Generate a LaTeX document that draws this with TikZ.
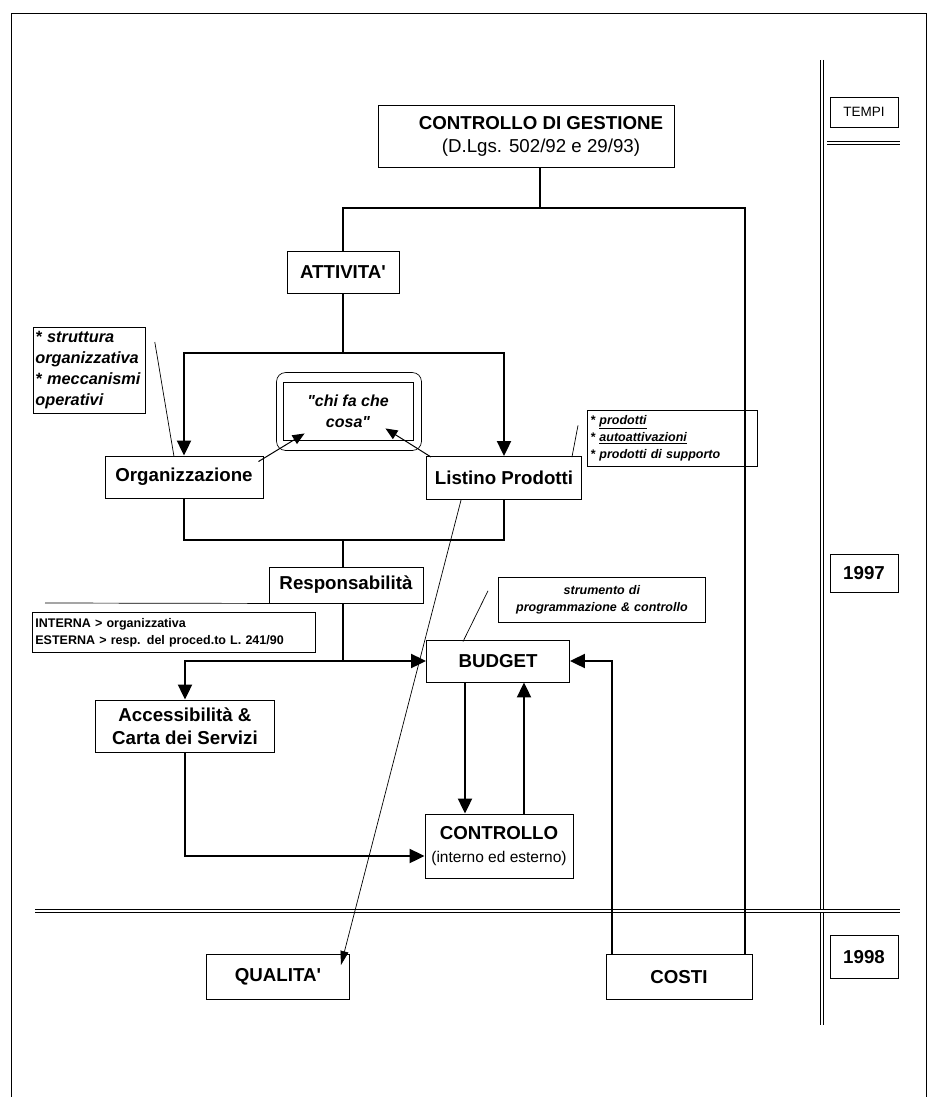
\documentclass[tikz,border=0pt]{standalone}
\usepackage{fontspec}
\setmainfont{Liberation Sans}
\usetikzlibrary{arrows.meta,calc}

\tikzset{
  box/.style={draw, line width=0.9pt, inner sep=0pt, align=center,
    font=\bfseries\fontsize{18.7}{23}\selectfont},
  note/.style={draw, line width=0.8pt, inner sep=3pt, align=left,
    font=\bfseries\itshape\fontsize{16.3}{21}\selectfont},
  link/.style={line width=2.1pt},
  arr/.style={line width=2.1pt, -{Triangle[length=15pt,width=14pt]}},
  small arr/.style={line width=1pt, -{Triangle[length=12pt,width=10pt]}},
  hair/.style={line width=0.7pt},
  doubleline/.style={double, double distance=2.4pt, line width=0.9pt},
}

\begin{document}
\begin{tikzpicture}[x=1pt, y=-1pt]
        \useasboundingbox (0,0) rectangle (933,1097);

        % Cornice
        \draw[line width=0.8pt] (11,1097) -- (11,13) -- (926,13) -- (926,1097);

        % Tempi
        \node[box, font=\fontsize{13.5}{16}\selectfont, minimum width=68, minimum height=30] (tempi) at (864,112) {TEMPI};
        \node[box, minimum width=68, minimum height=38] (y97) at (864,573) {1997};
        \node[box, minimum width=68, minimum height=43] (y98) at (864,957) {1998};
        \draw[doubleline] (822,60) -- (822,1025);
        \draw[doubleline] (827,143) -- (900,143);
        \draw[doubleline] (35,911) -- (900,911);

        % Nodi
        \node[box, minimum width=296, minimum height=62] (gest) at (526,136)
          {\hspace*{30pt}CONTROLLO DI GESTIONE\\\hspace*{30pt}{\mdseries (D.Lgs. 502/92 e 29/93)}};
        \node[box, minimum width=112, minimum height=42] (att) at (343,272) {ATTIVITA\textquotesingle};
        \node[box, font=\bfseries\itshape\fontsize{16}{21}\selectfont, minimum width=130, minimum height=58] (chi) at (348,411)
          {\textquotedbl chi fa che\\cosa\textquotedbl};
        \draw[hair, rounded corners=9] ($(chi.south west)+(-6,10)$) rectangle ($(chi.north east)+(8,-9)$);
        \node[box, minimum width=158, minimum height=42] (org) at (184,477) {Organizzazione};
        \node[box, minimum width=155, minimum height=43] (list) at (504,478) {Listino Prodotti};
        \node[box, minimum width=154, minimum height=36] (resp) at (346,585) {Responsabilità};
        \node[box, minimum width=179, minimum height=52] (acc) at (185,726) {Accessibilità \&\\Carta dei Servizi};
        \node[box, minimum width=143, minimum height=42] (bud) at (498,661) {BUDGET};
        \node[box, minimum width=148, minimum height=64] (ctrl) at (499,846)
          {CONTROLLO\\{\mdseries\fontsize{15.5}{18}\selectfont (interno ed esterno)}};
        \node[box, minimum width=143, minimum height=45] (qual) at (278,977) {QUALITA\textquotesingle};
        \node[box, minimum width=146, minimum height=45] (costi) at (679,977) {COSTI};

        % Note
        \node[note, text width=108, inner sep=2pt, minimum height=86, anchor=north west] (nstr) at (33,327)
          {\hyphenpenalty=10000 * struttura\\organizzativa\\{}* meccanismi\\operativi};
        \node[note, font=\bfseries\itshape\fontsize{12.5}{17}\selectfont, text width=164, minimum height=56, anchor=north west] (nprod) at (587,410)
          {* \underline{prodotti}\\{}* \underline{autoattivazioni}\\{}* prodotti di supporto};
        \node[note, font=\bfseries\fontsize{12.5}{17}\selectfont, text width=277, minimum height=40, anchor=north west] (nint) at (32,612)
          {INTERNA > organizzativa\\ESTERNA > resp. del proced.to L. 241/90};
        \node[note, font=\bfseries\itshape\fontsize{12.5}{17}\selectfont, align=center, text width=201, minimum height=45, anchor=north west] (nbud) at (498,577)
          {strumento di\\programmazione \& controllo};

        % Collegamenti in alto
        \coordinate (top) at (540,208);
        \coordinate (rgt) at (745,208);
        \draw[link] (gest.south -| top) -- (top);
        \draw[link] (att.north) |- (rgt) -- (rgt |- costi.north);
        \coordinate (split) at (343,353);
        \draw[link] (att.south) -- (split);
        \draw[arr] (split) -| (org.north);
        \draw[arr] (split) -| (list.north);
        \draw[small arr] ($(org.north east)+(-5,6)$) -- ($(chi.south west)+(22,-7)$);
        \draw[small arr] ($(list.north west)+(5,1)$) -- ($(chi.south east)+(-28,-12)$);
        \draw[hair] ($(nstr.north east)+(9,15)$) -- ($(org.north)+(-10,1)$);
        \draw[hair] ($(nprod.west)+(-9,-13)$) -- ($(list.north east)+(-10,1)$);

        % Collegamenti in basso
        \coordinate (join) at (343,540);
        \draw[link] (org.south) |- (join) -| (list.south);
        \draw[link] (join) -- (join |- resp.north);
        \coordinate (fork) at (343,661);
        \draw[link] (resp.south -| fork) -- (fork);
        \draw[arr] (fork) -- (bud.west);
        \draw[arr] (fork) -| (acc.north);
        \draw[arr] (acc.south) |- ($(ctrl.west)+(0,10)$);
        \draw[arr] ($(bud.south)+(-33,0)$) -- ($(ctrl.north)+(-34,0)$);
        \draw[arr] ($(ctrl.north)+(25,0)$) -- ($(bud.south)+(26,0)$);
        \draw[arr] ($(costi.north)+(-67,0)$) |- (bud.east);
        \draw[hair] ($(nbud.south west)+(-10,-32)$) -- ($(bud.north)+(-35,2)$);
        \coordinate (rl) at (45,603);
        \draw[hair] (rl) -- ($(resp.south west)+(8,0)$);
        \draw[hair, -{Triangle[length=14pt,width=8pt]}] ($(list.south west)+(35,0)$) -- ($(qual.north east)+(-9,11)$);
    \end{tikzpicture}
\end{document}
